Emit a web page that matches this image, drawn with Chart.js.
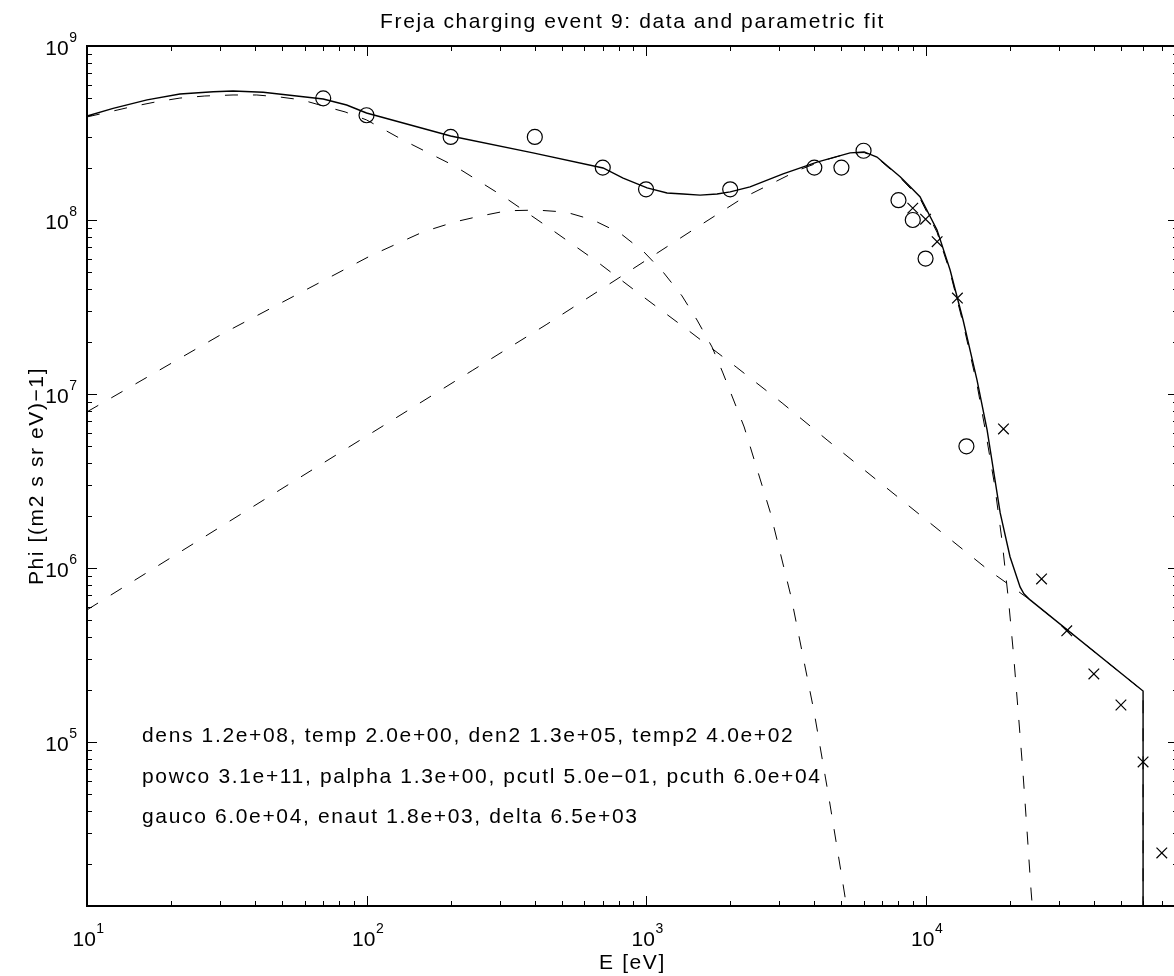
<!DOCTYPE html>
<html><head><meta charset="utf-8">
<script src="https://cdn.jsdelivr.net/npm/chart.js@4.4.1/dist/chart.umd.min.js"></script>
<style>html,body{margin:0;padding:0;background:#fff;overflow:hidden;width:1174px;height:976px}canvas{display:block}</style>
</head><body><canvas id="c" width="1200" height="976"></canvas>
<script>
// ---- texts ----
const titleText = 'Freja charging event 9: data and parametric fit';
const xTitle = 'E [eV]';
const yTitle = 'Phi [(m2 s sr eV)\u22121]';
const paramLines = [
  'dens 1.2e+08, temp 2.0e+00, den2 1.3e+05, temp2 4.0e+02',
  'powco 3.1e+11, palpha 1.3e+00, pcutl 5.0e\u221201, pcuth 6.0e+04',
  'gauco 6.0e+04, enaut 1.8e+03, delta 6.5e+03'
];
// ---- axes ----
const xRange = [10, 8e4];
const yRange = [1.14e4, 1e9];
const xTicks = [10, 100, 1000, 10000];
const yTicks = [1e5, 1e6, 1e7, 1e8, 1e9];
// ---- total fit (solid) ----
const fitE = [10, 12.4, 16.4, 21.5, 28.3, 33.3, 42.7, 56.2, 70, 84.9, 100, 200, 394, 702, 828, 1009, 1189, 1357, 1561, 1795, 2000, 2355, 3092, 4090, 5370, 6030, 6700, 8110, 8810, 9550, 10990, 12240, 13620, 15280, 16600, 18490, 20050, 21780, 22480, 23660, 60000, 60000];
const fitV = [3.96e8, 4.38e8, 4.90e8, 5.30e8, 5.46e8, 5.51e8, 5.42e8, 5.16e8, 4.96e8, 4.58e8, 4.12e8, 3.04e8, 2.43e8, 1.99e8, 1.74e8, 1.53e8, 1.43e8, 1.41e8, 1.39e8, 1.41e8, 1.45e8, 1.55e8, 1.84e8, 2.15e8, 2.43e8, 2.46e8, 2.30e8, 1.77e8, 1.55e8, 1.36e8, 8.77e7, 5.16e7, 2.66e7, 1.20e7, 6.21e6, 2.07e6, 1.16e6, 7.78e5, 7.1e5, 6.55e5, 1.96e5, 1e3];
// ---- component: cold population + power law (dashed) ----
const powE = [10, 12.4, 14.3, 17.5, 21.5, 26.4, 33.3, 40.5, 49, 58.7, 70, 83.8, 100, 135, 207, 310, 461, 663, 968, 1426, 2100, 3067, 4443, 16750, 19240, 23660, 60000, 60000];
const powV = [3.91e8, 4.23e8, 4.46e8, 4.76e8, 5.02e8, 5.16e8, 5.23e8, 5.23e8, 5.09e8, 4.90e8, 4.52e8, 4.18e8, 3.76e8, 2.88e8, 2.04e8, 1.36e8, 8.77e7, 5.81e7, 3.66e7, 2.30e7, 1.43e7, 8.88e6, 5.44e6, 9.75e5, 8.32e5, 6.55e5, 1.96e5, 1e3];
// ---- component: second Maxwellian (dashed) ----
const maxE = [10, 30.4, 103, 159, 207, 253, 318, 407, 517, 646, 807, 983, 1151, 1345, 1522, 1723, 1884, 2244, 2780, 3304, 3992, 4518, 5070, 5280];
const maxV = [7.89e6, 2.21e7, 6.21e7, 8.53e7, 9.75e7, 1.05e8, 1.13e8, 1.14e8, 1.11e8, 1.0e8, 8.41e7, 6.55e7, 5.02e7, 3.66e7, 2.66e7, 1.86e7, 1.32e7, 6.46e6, 2.10e6, 6.81e5, 1.49e5, 4.70e4, 1.51e4, 1.0e4];
// ---- component: accelerated population (dashed) ----
const accE = [10, 49, 240, 439, 800, 1472, 2223, 3527, 4365, 5370, 6030, 6700, 8110, 9550, 10990, 12240, 13620, 15280, 16330, 17660, 18780, 19830, 20650, 21520, 22340, 23080, 23850, 24250];
const accV = [5.74e5, 2.81e6, 1.37e7, 2.50e7, 4.65e7, 8.77e7, 1.34e8, 1.94e8, 2.21e8, 2.43e8, 2.44e8, 2.28e8, 1.75e8, 1.33e8, 8.5e7, 5.0e7, 2.55e7, 1.13e7, 6.3e6, 3.0e6, 1.43e6, 6.38e5, 3.16e5, 1.39e5, 6.46e4, 3.04e4, 1.39e4, 1.0e4];
// ---- measured data: circles ----
const circE = [70, 100, 200, 400, 700, 1000, 2000, 4000, 5000, 6000, 8000, 9000, 10000, 14000];
const circV = [5e8, 4e8, 3e8, 3e8, 2e8, 1.5e8, 1.5e8, 2e8, 2e8, 2.5e8, 1.3e8, 1e8, 6e7, 5e6];
// ---- measured data: crosses ----
const crossE = [9000, 10000, 11000, 13000, 19000, 26000, 32000, 40000, 50000, 60000, 70000];
const crossV = [1.17e8, 1.01e8, 7.5e7, 3.56e7, 6.29e6, 8.65e5, 4.35e5, 2.46e5, 1.63e5, 7.67e4, 2.3e4];

const pts = (xs, ys) => xs.map((x, i) => ({x, y: ys[i]}));
const expOf = v => String(Math.round(Math.log10(v)));

const FONT = "'Liberation Sans', Arial, Helvetica, sans-serif";
Chart.defaults.font.family = FONT;
Chart.defaults.font.size = 21;
Chart.defaults.color = '#000';

const framePlugin = {
  id: 'frame',
  beforeDraw(chart) { chart.ctx.letterSpacing = '1.6px'; },
  afterDatasetsDraw(chart) {
    const {ctx, chartArea: a, scales: {x, y}} = chart;
    ctx.save();
    ctx.strokeStyle = '#000';
    ctx.lineWidth = 1;
    ctx.setLineDash([]);
    ctx.beginPath();
    for (let d = Math.floor(Math.log10(x.min)); d <= Math.ceil(Math.log10(x.max)); d++) {
      for (let m = 1; m < 10; m++) {
        const v = m * Math.pow(10, d);
        if (v < x.min * 0.999 || v > x.max * 1.001) continue;
        const p = Math.round(x.getPixelForValue(v)) + 0.5;
        const L = m === 1 ? 10 : 5;
        ctx.moveTo(p, a.bottom); ctx.lineTo(p, a.bottom - L);
        ctx.moveTo(p, a.top); ctx.lineTo(p, a.top + L);
      }
    }
    for (let d = Math.floor(Math.log10(y.min)); d <= Math.ceil(Math.log10(y.max)); d++) {
      for (let m = 1; m < 10; m++) {
        const v = m * Math.pow(10, d);
        if (v < y.min * 0.999 || v > y.max * 1.001) continue;
        const p = Math.round(y.getPixelForValue(v)) + 0.5;
        const L = m === 1 ? 10 : 5;
        ctx.moveTo(a.left, p); ctx.lineTo(a.left + L, p);
        ctx.moveTo(a.right, p); ctx.lineTo(a.right - L, p);
      }
    }
    ctx.stroke();
    ctx.lineWidth = 2;
    ctx.strokeRect(a.left, a.top, a.right - a.left, a.bottom - a.top);
    ctx.restore();
  },
  afterDraw(chart) {
    const {ctx, chartArea: a, scales: {x, y}} = chart;
    ctx.save();
    ctx.fillStyle = '#000';
    ctx.textBaseline = 'alphabetic';
    // parameter annotation
    ctx.letterSpacing = '1.65px';
    ctx.font = '21px ' + FONT;
    ctx.textAlign = 'left';
    const base = [742, 783, 823];
    paramLines.forEach((t, i) => ctx.fillText(t, 142, base[i]));
    // decade tick labels: "10" with raised exponent
    ctx.letterSpacing = '0px';
    const big = '21px ' + FONT, small = '14px ' + FONT;
    xTicks.forEach(v => {
      const p = x.getPixelForValue(v);
      ctx.font = big; ctx.textAlign = 'left';
      const x0 = p - 14.5;
      ctx.fillText('10', x0, a.bottom + 40);
      const w = ctx.measureText('10').width;
      ctx.font = small;
      ctx.fillText(expOf(v), x0 + w + 0.5, a.bottom + 27);
    });
    yTicks.forEach(v => {
      const p = y.getPixelForValue(v);
      ctx.font = small; ctx.textAlign = 'right';
      const e = expOf(v);
      const we = ctx.measureText(e).width;
      ctx.fillText(e, a.left - 10, p - 4);
      ctx.font = big;
      ctx.fillText('10', a.left - 10 - we - 0.5, p + 9);
    });
    ctx.restore();
  }
};

const lineDs = (data, dashed, w) => ({
  data, showLine: true, borderColor: '#000', borderWidth: w, pointRadius: 0,
  pointHoverRadius: 0, tension: 0, fill: false, borderDash: dashed ? [13, 15] : []
});

new Chart(document.getElementById('c'), {
  type: 'scatter',
  data: {
    datasets: [
      lineDs(pts(powE, powV), true, 1),
      lineDs(pts(maxE, maxV), true, 1),
      lineDs(pts(accE, accV), true, 1),
      lineDs(pts(fitE, fitV), false, 1.4),
      { data: pts(circE, circV), showLine: false, pointStyle: 'circle', pointRadius: 7.5,
        borderColor: '#000', backgroundColor: 'rgba(0,0,0,0)', pointBorderWidth: 1.2 },
      { data: pts(crossE, crossV), showLine: false, pointStyle: 'crossRot', pointRadius: 7.5,
        borderColor: '#000', backgroundColor: 'rgba(0,0,0,0)', pointBorderWidth: 1.2 }
    ]
  },
  options: {
    responsive: false, devicePixelRatio: 1, animation: false,
    layout: { padding: { left: 0, top: 0, right: 22, bottom: 0 } },
    plugins: {
      legend: { display: false }, tooltip: { enabled: false },
      title: { display: true, text: titleText, fullSize: false, color: '#000',
        font: { size: 21, weight: 'normal' }, padding: { top: 10, bottom: 10.8 } }
    },
    scales: {
      x: {
        type: 'logarithmic', position: 'bottom', min: xRange[0], max: xRange[1],
        afterBuildTicks: s => { s.ticks = xTicks.map(v => ({value: v, major: true})); },
        afterFit: s => { s.height = 70; },
        ticks: { display: false },
        grid: { display: false, drawTicks: false },
        border: { display: false },
        title: { display: true, text: xTitle, color: '#000', font: { size: 21 }, padding: { top: 0, bottom: 0 } }
      },
      y: {
        type: 'logarithmic', position: 'left', min: yRange[0], max: yRange[1],
        afterBuildTicks: s => { s.ticks = yTicks.map(v => ({value: v, major: true})); },
        afterFit: s => { s.width = 87; },
        ticks: { display: false },
        grid: { display: false, drawTicks: false },
        border: { display: false },
        title: { display: true, text: yTitle, color: '#000', font: { size: 21 }, padding: { top: 25, bottom: 0 } }
      }
    }
  },
  plugins: [framePlugin]
});
</script></body></html>
